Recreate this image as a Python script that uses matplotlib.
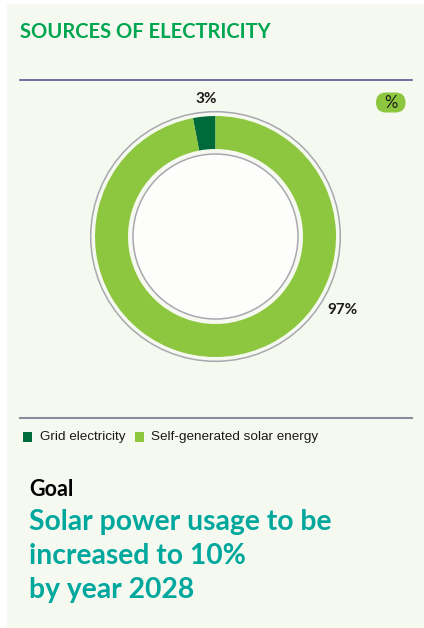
import matplotlib
matplotlib.use("Agg")
import matplotlib.pyplot as plt
from matplotlib.patches import Rectangle, Circle, FancyBboxPatch

# Data
categories = ["Grid electricity", "Self-generated solar energy"]
shares = [3, 97]
share_labels = ["3%", "97%"]
colors = ["#006b3a", "#8dc63f"]

title = "SOURCES OF ELECTRICITY"
goal_heading = "Goal"
goal_lines = ["Solar power usage to be", "increased to 10%", "by year 2028"]

W, H = 424, 628
fig = plt.figure(figsize=(W / 100, H / 100), dpi=100, facecolor="white")

FONT = ["Lato", "DejaVu Sans"]
BG = "#f6f9ef"

# Panel background
fig.patches.append(Rectangle((7 / W, 0), 1 - 7 / W, 1 - 4 / H, transform=fig.transFigure,
                             facecolor=BG, edgecolor="none", zorder=-1))

# Donut chart
cx, cy, R_gray = 215.5, 236.5, 125.5
ax = fig.add_axes([(cx - R_gray) / W, 1 - (cy + R_gray) / H, 2 * R_gray / W, 2 * R_gray / H])
ax.set_facecolor("none")
R_out, R_in = 120.5, 87.5
ax.pie(shares, colors=colors, radius=R_out, startangle=90, counterclock=True,
       wedgeprops=dict(width=R_out - R_in, linewidth=0), frame=False)
ax.add_patch(Circle((0, 0), 82.5, facecolor="#fdfefb", edgecolor="#a8a8b0", lw=1.1, zorder=3))
ax.add_patch(Circle((0, 0), 124.8, facecolor="none", edgecolor="#a8a8b0", lw=1.1, zorder=3))
ax.set_xlim(-R_gray, R_gray)
ax.set_ylim(-R_gray, R_gray)
ax.set_aspect("equal")
ax.axis("off")

# Overlay in pixel coordinates for text, rules and legend
ov = fig.add_axes([0, 0, 1, 1])
ov.set_xlim(0, W)
ov.set_ylim(H, 0)
ov.set_facecolor("none")
ov.axis("off")
ov.set_zorder(2)

ov.text(20, 32, title, color="#00a650", fontsize=14.5, fontweight="bold",
        family=FONT, va="center", ha="left")

ov.plot([20, 412], [80, 80], color="#55559a", lw=1.2)
ov.plot([20, 412], [418, 418], color="#8a8aa0", lw=1.5)

# Slice labels
ov.text(206, 99, share_labels[0], fontsize=11, fontweight="bold",
        family=FONT, ha="center", va="center", color="#1a1a1a")
ov.text(327, 310, share_labels[1], fontsize=11, fontweight="bold",
        family=FONT, ha="left", va="center", color="#1a1a1a")

# Unit badge
ov.add_patch(FancyBboxPatch((376, 92.5), 29.5, 20,
                            boxstyle="round,pad=0,rounding_size=10",
                            facecolor="#8dc63f", edgecolor="none"))
ov.text(390.5, 103, "%", fontsize=12, family=FONT, ha="center", va="center",
        color="#1a1a1a")

# Legend
leg_y = 437
for sx, tx, label, c in [(22.5, 40, categories[0], colors[0]),
                         (134.5, 151, categories[1], colors[1])]:
    ov.add_patch(Rectangle((sx, leg_y - 5), 9.5, 9.5, facecolor=c, edgecolor="none"))
    ov.text(tx, leg_y, label, fontsize=9.7, family=["Liberation Sans"],
            ha="left", va="center", color="#1a1a1a")

# Goal block
ov.text(29, 489, goal_heading, fontsize=15.5, fontweight="bold", family=FONT,
        ha="left", va="center", color="black")
for i, line in enumerate(goal_lines):
    ov.text(29, 522 + 34 * i, line, fontsize=20.3, fontweight="bold", family=FONT,
            ha="left", va="center", color="#00a79d")

fig.savefig("out.png", dpi=100, facecolor=fig.get_facecolor())
